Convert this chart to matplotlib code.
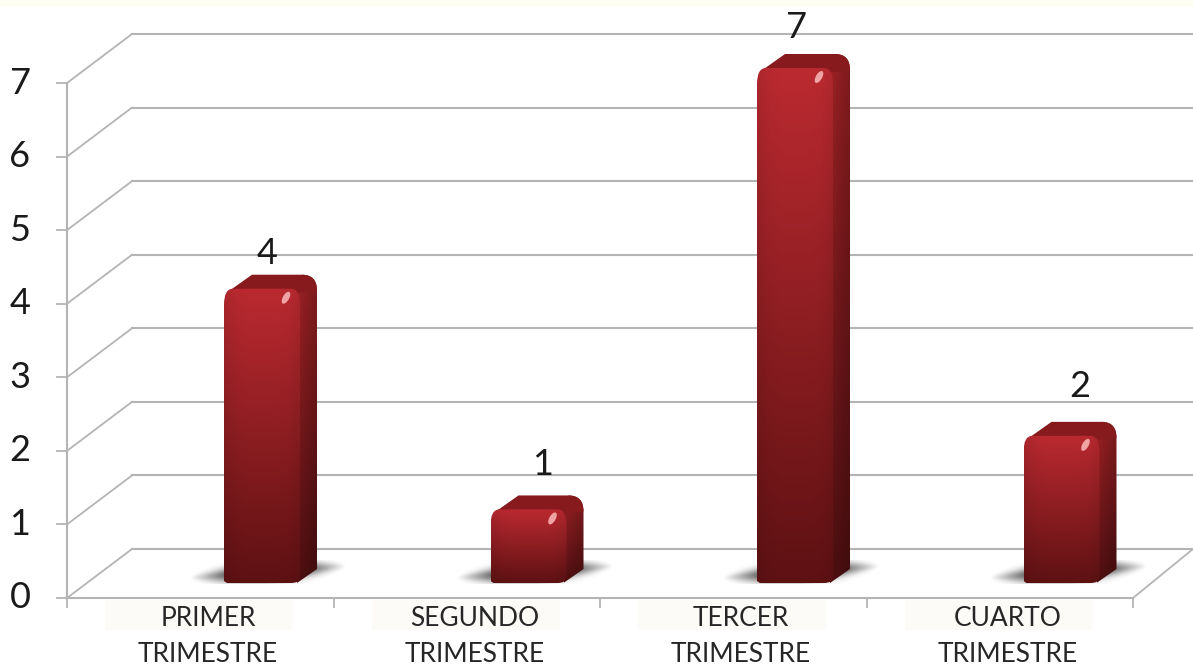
import matplotlib
matplotlib.use('Agg')
import matplotlib.pyplot as plt
import numpy as np
from matplotlib.patches import PathPatch, Rectangle
from matplotlib.path import Path

categories = ['PRIMER\nTRIMESTRE', 'SEGUNDO\nTRIMESTRE', 'TERCER\nTRIMESTRE', 'CUARTO\nTRIMESTRE']
values = [4, 1, 7, 2]
y_ticks = [0, 1, 2, 3, 4, 5, 6, 7]

W, H = 1193, 667
GRID = '#b4b4b4'
# one pixel in data units
PX = 4 / 1066
PY = 7 / 515
# the value labels do not sit evenly over their bars in the original
label_dx = [200, 209, 197, 213]
label_dy = [0.68, 0.81, 0.76, 0.88]

plt.rcParams['font.family'] = ['Lato', 'DejaVu Sans']

fig = plt.figure(figsize=(W / 100, H / 100), dpi=100, facecolor='white')
fig.patches.append(Rectangle((0, 1 - 7 / H), 1, 7 / H, transform=fig.transFigure, fc='#fdfdf1', ec='none'))
ax = fig.add_axes([67 / W, (H - 598) / H, 1066 / W, 515 / H])
ax.set_axis_off()

back_dx = 65 * PX
back_dy = 49 * PY

# walls and floor
for y in y_ticks:
    ax.plot([0, back_dx], [y, y + back_dy], color=GRID, lw=1.3, clip_on=False, zorder=1)
    ax.plot([back_dx, 4 + 60 * PX], [y + back_dy, y + back_dy], color=GRID, lw=1.5, clip_on=False, zorder=1)
    ax.plot([-10 * PX, 0], [y, y], color=GRID, lw=1.3, clip_on=False, zorder=1)
    ax.text(-47 * PX, y, str(y), fontsize=26, ha='center', va='center', color='#1a1a1a', clip_on=False)
ax.plot([0, 0], [0, 7], color=GRID, lw=1.5, clip_on=False, zorder=1)
ax.plot([0, 4], [0, 0], color=GRID, lw=1.5, clip_on=False, zorder=1)
ax.plot([4, 4 + 60 * PX], [0, back_dy], color=GRID, lw=1.3, clip_on=False, zorder=1)
for x in range(5):
    ax.plot([x, x], [0, -9 * PY], color=GRID, lw=1.3, clip_on=False, zorder=1)


def gradient(ax, extent, top, bottom, side, clip, zorder):
    # vertical colour ramp, multiplied by a horizontal shade
    ramp = np.linspace(0, 1, 200)[:, None, None]
    top = np.array(matplotlib.colors.to_rgb(top))
    bottom = np.array(matplotlib.colors.to_rgb(bottom))
    col = top * (1 - ramp) + bottom * ramp
    shade = np.interp(np.linspace(0, 1, 60), np.linspace(0, 1, len(side)), side)[None, :, None]
    im = ax.imshow(np.clip(col * shade, 0, 1), extent=extent, origin='upper', aspect='auto',
                   zorder=zorder, interpolation='bilinear')
    # the bar tops go above the axes, images fall back on the axes box without this
    im.set_clip_box(fig.bbox)
    im.set_clip_path(clip)


def draw_bar(ax, i, v):
    left = i + 157 * PX
    right = left + 76 * PX
    base = 15 * PY
    top = v + base
    dx, dy = 17 * PX, 14 * PY
    rx, ry = 9 * PX, 16 * PY
    cx, cy = 15 * PX, 16 * PY

    # soft floor shadow, a slanted wedge through the foot of the bar
    sh = np.zeros((60, 200, 4))
    xs = np.linspace(-1, 1, 200)[None, :]
    ys = np.linspace(-1, 1, 60)[:, None]
    sh[..., :3] = 0.25
    width = 0.8 * np.sqrt(1 - np.abs(xs)) + 0.04
    band = np.exp(-((ys + 0.5 * xs) / width) ** 2)
    sh[..., 3] = np.clip(1.7 * (1 - np.abs(xs)), 0, 0.9) * band
    ax.imshow(sh, extent=[left - 34 * PX, right + 46 * PX, base - 1 * PY, base + 23 * PY],
              aspect='auto', zorder=2, clip_on=False, interpolation='bilinear')

    # right side
    side = PathPatch(Path([(right - 3 * PX, base), (right + dx, base + dy), (right + dx, top + dy - cy),
                           (right + dx, top + dy), (right + dx - cx, top + dy), (right - 3 * PX, top),
                           (right - 3 * PX, base)],
                          [Path.MOVETO, Path.LINETO, Path.LINETO, Path.CURVE3, Path.CURVE3, Path.LINETO, Path.CLOSEPOLY]),
                     fc='none', ec='none', zorder=3, clip_on=False)
    ax.add_patch(side)
    gradient(ax, [right - 3 * PX, right + dx, base, top + dy], '#a02226', '#4f0f11',
             [1.0, 0.92, 0.85, 0.8], side, 3)

    # top face
    topf = PathPatch(Path([(left + 4 * PX, top - 3 * PY), (left + 28 * PX, top + dy), (right + dx - cx, top + dy),
                           (right + dx, top + dy), (right + dx, top + dy - cy), (right, top - 4 * PY),
                           (left + 4 * PX, top - 3 * PY)],
                          [Path.MOVETO, Path.LINETO, Path.LINETO, Path.CURVE3, Path.CURVE3, Path.LINETO, Path.CLOSEPOLY]),
                     fc='#861a1c', ec='none', zorder=4, clip_on=False)
    ax.add_patch(topf)

    # front face, top left corner cut round
    front = PathPatch(Path([(left, base + 2 * PY), (left, top - ry), (left, top), (left + rx, top),
                            (right - rx, top), (right, top), (right, top - ry),
                            (right, base + 6 * PY), (right, base), (right - rx, base), (left + 3 * PX, base),
                            (left, base + 2 * PY)],
                           [Path.MOVETO, Path.LINETO, Path.CURVE3, Path.CURVE3, Path.LINETO, Path.CURVE3, Path.CURVE3,
                            Path.LINETO, Path.CURVE3, Path.CURVE3, Path.LINETO, Path.CLOSEPOLY]),
                      fc='none', ec='none', zorder=5, clip_on=False)
    ax.add_patch(front)
    gradient(ax, [left, right, base, top], '#bb2a30', '#5e1113',
             [0.92, 0.98, 1.0, 1.0, 1.0, 0.99, 0.93], front, 5)

    # small slanted highlight
    t = np.linspace(0, 2 * np.pi, 30)
    hx = right - 14 * PX + (3.5 * np.cos(t) + 2.5 * np.sin(t)) * PX
    hy = top - 9 * PY + 6 * np.sin(t) * PY
    ax.fill(hx, hy, fc='#f0a3a3', ec='none', zorder=6, clip_on=False)


for i, v in enumerate(values):
    draw_bar(ax, i, v)
    ax.text(i + label_dx[i] * PX, v + label_dy[i], str(v), fontsize=26, ha='center', va='center', color='#1a1a1a', clip_on=False, zorder=7)
    first, second = categories[i].split('\n')
    ax.add_patch(Rectangle((i + 38 * PX, -32 * PY), 188 * PX, 30 * PY, fc='#fcfbf8', ec='none', clip_on=False, zorder=0))
    ax.text(i + 141 * PX, -20 * PY, first, fontsize=19, ha='center', va='center', color='#262626', clip_on=False, zorder=7)
    ax.text(i + 141 * PX, -57 * PY, second, fontsize=19, ha='center', va='center', color='#262626', clip_on=False, zorder=7)

ax.set_xlim(0, 4)
ax.set_ylim(0, 7)

fig.savefig('out.png', dpi=100)
